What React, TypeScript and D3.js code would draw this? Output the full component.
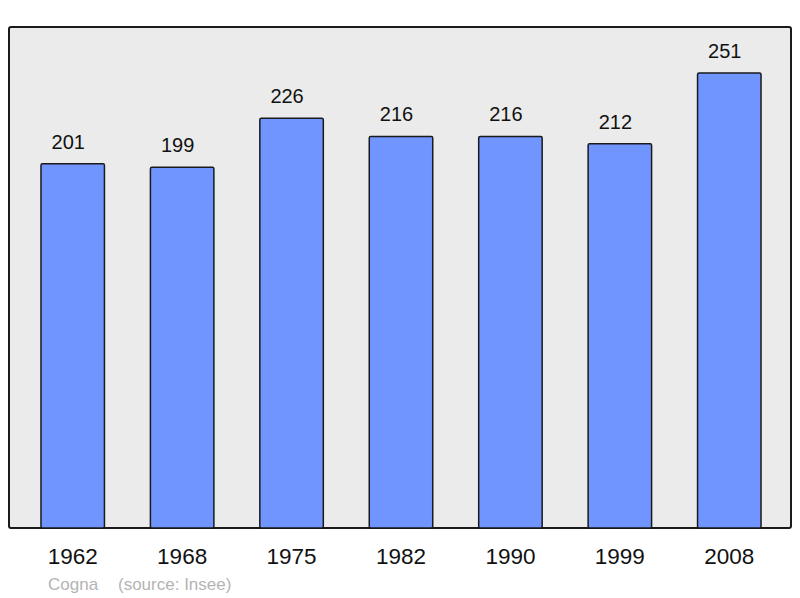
import * as d3 from "d3";
import { useEffect, useRef } from "react";

const years = ["1962", "1968", "1975", "1982", "1990", "1999", "2008"];
const population = [201, 199, 226, 216, 216, 212, 251];
const placeName = "Cogna";
const sourceNote = "(source: Insee)";

export default function App() {
  const ref = useRef<SVGSVGElement>(null);

  useEffect(() => {
    if (!ref.current) return;
    const width = 800;
    const height = 598;
    const svg = d3.select(ref.current);
    svg.selectAll("*").remove();
    svg.attr("width", width).attr("height", height);

    const font = "'Liberation Sans', Arial, sans-serif";

    // panel
    svg
      .append("rect")
      .attr("x", 9)
      .attr("y", 27)
      .attr("width", 782)
      .attr("height", 501)
      .attr("rx", 2)
      .attr("fill", "#ebebeb")
      .attr("stroke", "#1a1a1a")
      .attr("stroke-width", 2);

    const x = d3
      .scaleBand<string>()
      .domain(years)
      .range([18, 784])
      .paddingInner(0.42)
      .paddingOuter(0.21);

    const y = d3.scaleLinear().domain([0, 251]).range([528, 73]);

    const rows = years.map((yr, i) => ({ yr, v: population[i] }));

    svg
      .append("g")
      .selectAll("rect")
      .data(rows)
      .join("rect")
      .attr("x", (d) => x(d.yr)!)
      .attr("y", (d) => y(d.v))
      .attr("width", x.bandwidth())
      .attr("height", (d) => y(0) - y(d.v))
      .attr("rx", 1.5)
      .attr("fill", "#7095ff")
      .attr("stroke", "#1a1a1a")
      .attr("stroke-width", 1.5);

    // value labels (sit a little left of the bar centre, as in the original)
    svg
      .append("g")
      .selectAll("text")
      .data(rows)
      .join("text")
      .attr("x", (d) => x(d.yr)! + x.bandwidth() / 2 - 4.5)
      .attr("y", (d) => y(d.v) - 15)
      .attr("text-anchor", "middle")
      .style("font-family", font)
      .style("font-size", "20px")
      .style("fill", "#111")
      .text((d) => d.v);

    // year labels
    svg
      .append("g")
      .selectAll("text")
      .data(rows)
      .join("text")
      .attr("x", (d) => x(d.yr)! + x.bandwidth() / 2)
      .attr("y", 564)
      .attr("text-anchor", "middle")
      .style("font-family", font)
      .style("font-size", "22.5px")
      .style("fill", "#111")
      .text((d) => d.yr);

    svg
      .append("text")
      .attr("x", 48)
      .attr("y", 590)
      .style("font-family", font)
      .style("font-size", "17px")
      .style("fill", "#b4b4b4")
      .text(placeName);

    svg
      .append("text")
      .attr("x", 118)
      .attr("y", 590)
      .style("font-family", font)
      .style("font-size", "17px")
      .style("fill", "#b4b4b4")
      .text(sourceNote);
  }, []);

  return <svg ref={ref} style={{ position: "absolute", left: 0, top: 0 }} />;
}
